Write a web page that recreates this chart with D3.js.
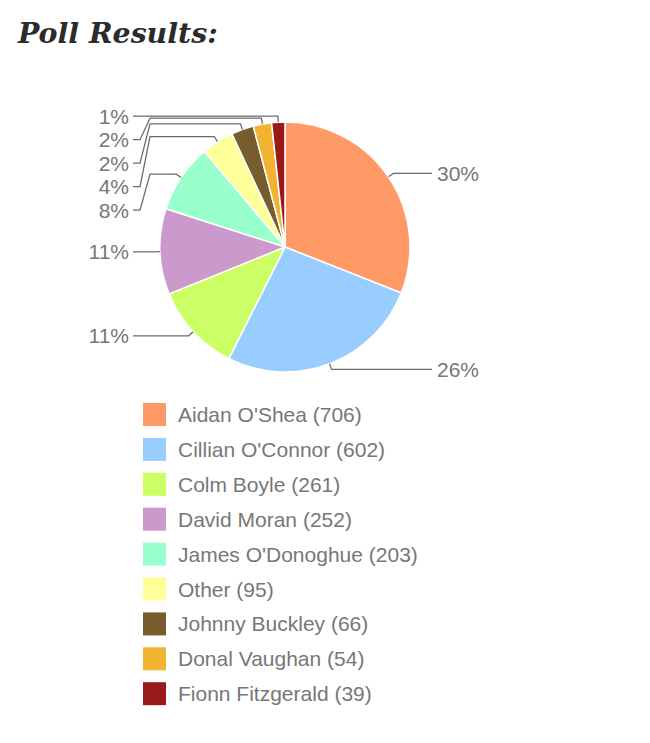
<!DOCTYPE html>
<html>
<head>
<meta charset="utf-8">
<script src="https://cdn.jsdelivr.net/npm/d3@7"></script>
<style>
  body { margin: 0; background: #fff; }
  .title { font-family: "DejaVu Serif", serif; font-weight: bold; font-style: italic; fill: #2b2b2b; }
  .lbl, .leg { font-family: "Liberation Sans", Arial, sans-serif; font-size: 21px; fill: #777; }
</style>
</head>
<body>
<div class="chart"></div>
<script>
// poll data
var names = ["Aidan O'Shea", "Cillian O'Connor", "Colm Boyle", "David Moran", "James O'Donoghue",
             "Other", "Johnny Buckley", "Donal Vaughan", "Fionn Fitzgerald"];
var votes = [706, 602, 261, 252, 203, 95, 66, 54, 39];
var colors = ["#FF9966", "#99CCFF", "#CCFF66", "#CC99CC", "#99FFCC",
              "#FFFF99", "#775C2E", "#F0B432", "#991A1A"];

var svgWidth = 650;
var svgHeight = 743;

var cx = 285, cy = 247, radius = 125;
var total = d3.sum(votes);

var svg = d3.select(".chart")
  .append("svg")
  .attr("width", svgWidth)
  .attr("height", svgHeight);

svg.append("text")
  .attr("class", "title")
  .attr("x", 18)
  .attr("y", 43)
  .style("font-size", "28.4px")
  .text("Poll Results:");

var pie = d3.pie().sort(null).value(d => d)(votes);
var arc = d3.arc().innerRadius(0).outerRadius(radius);

var pieGroup = svg.append("g")
  .attr("transform", `translate(${cx}, ${cy})`);

pieGroup.selectAll("path")
  .data(pie)
  .enter()
  .append("path")
  .attr("d", arc)
  .attr("fill", (d, i) => colors[i])
  .attr("stroke", "#fff")
  .attr("stroke-width", 1.5);

// label layout: elbow just outside the pie, then stacked on each side
var labels = pie.map(function(d, i) {
  var a = (d.startAngle + d.endAngle) / 2;
  return {
    i: i,
    edge: [radius * Math.sin(a), -radius * Math.cos(a)],
    elbow: [(radius + 6) * Math.sin(a), -(radius + 6) * Math.cos(a)],
    right: a < Math.PI,
    text: Math.floor(votes[i] / total * 100) + "%"
  };
});

var gap = 23.5;
[true, false].forEach(function(side) {
  var list = labels.filter(l => l.right === side).sort((a, b) => a.elbow[1] - b.elbow[1]);
  var prev = -Infinity;
  list.forEach(function(l) {
    l.y = Math.max(l.elbow[1], prev + gap);
    prev = l.y;
  });
});

var line = d3.line();
labels.forEach(function(l) {
  var pts;
  if (l.right) {
    pts = [l.edge, l.elbow, [radius + 22, l.y]];
    if (l.y !== l.elbow[1]) pts.splice(2, 0, [radius + 12, l.y]);
  } else if (Math.abs(l.y - l.elbow[1]) < 0.5) {
    pts = [l.edge, l.elbow, [-radius - 27, l.y]];
  } else {
    pts = [l.edge, l.elbow, [-radius - 10, l.elbow[1]], [-radius - 20, l.y], [-radius - 27, l.y]];
  }
  pieGroup.append("path")
    .attr("d", line(pts))
    .attr("fill", "none")
    .attr("stroke", "#6b6b6b")
    .attr("stroke-width", 1.3);

  pieGroup.append("text")
    .attr("class", "lbl")
    .attr("x", l.right ? radius + 27 : -radius - 31)
    .attr("y", l.y)
    .attr("dy", "0.36em")
    .attr("text-anchor", l.right ? "start" : "end")
    .text(l.text);
});

// legend
var legend = svg.append("g")
  .attr("transform", "translate(143, 403)");

var rows = legend.selectAll("g")
  .data(names)
  .enter()
  .append("g")
  .attr("transform", (d, i) => `translate(0, ${i * 34.9})`);

rows.append("rect")
  .attr("width", 23)
  .attr("height", 23)
  .attr("fill", (d, i) => colors[i]);

rows.append("text")
  .attr("class", "leg")
  .attr("x", 35)
  .attr("y", 11.5)
  .attr("dy", "0.36em")
  .text((d, i) => `${d} (${votes[i]})`);
</script>
</body>
</html>
